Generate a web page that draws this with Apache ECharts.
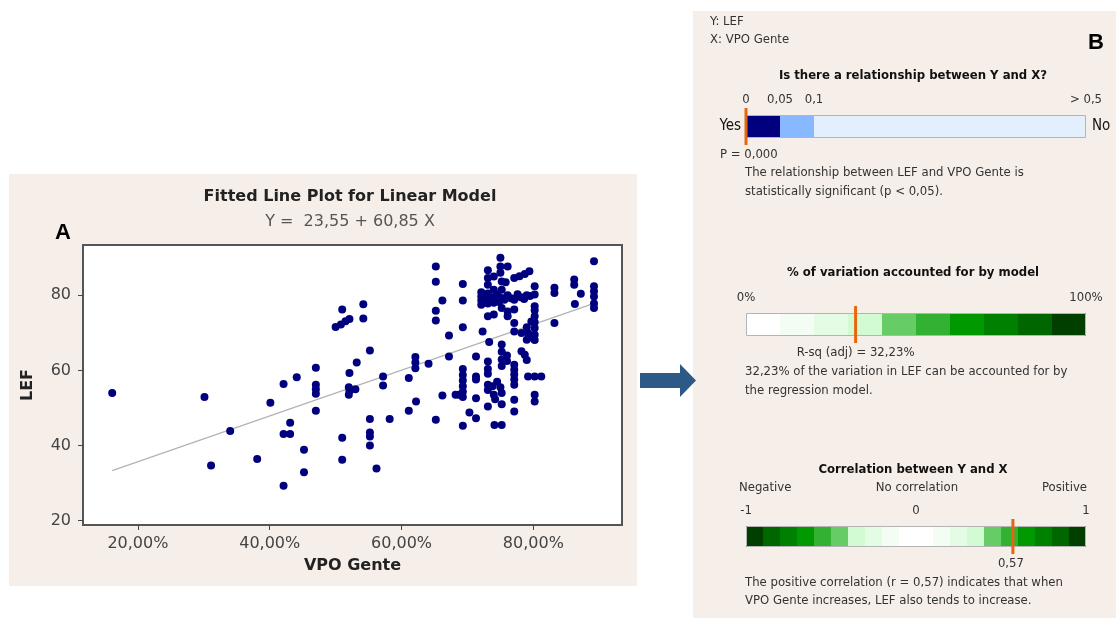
<!DOCTYPE html>
<html>
<head>
<meta charset="utf-8">
<script src="https://cdn.jsdelivr.net/npm/echarts@6/dist/echarts.min.js"></script>
<style>
  html, body { margin: 0; padding: 0; background: #ffffff; }
  #chart { width: 1118px; height: 619px; }
</style>
</head>
<body>
<div id="chart"></div>
<script>
// ---- Panel A: scatter of LEF against VPO Gente ----
const vpoGente = [
  0.161, 0.301, 0.311, 0.340, 0.381, 0.401, 0.421, 0.421, 0.421, 0.431,
  0.431, 0.441, 0.452, 0.452, 0.470, 0.470, 0.470, 0.470, 0.470, 0.500,
  0.508, 0.515, 0.521, 0.510, 0.542, 0.542, 0.552, 0.532, 0.521, 0.520,
  0.521, 0.520, 0.530, 0.510, 0.510, 0.552, 0.552, 0.552, 0.552, 0.562,
  0.572, 0.572, 0.582, 0.611, 0.611, 0.622, 0.621, 0.621, 0.621, 0.641,
  0.652, 0.652, 0.652, 0.652, 0.652, 0.662, 0.662, 0.672, 0.672, 0.682,
  0.687, 0.693, 0.693, 0.693, 0.693, 0.693, 0.693, 0.693, 0.693, 0.693,
  0.693, 0.703, 0.713, 0.713, 0.713, 0.713, 0.713, 0.721, 0.721, 0.721,
  0.721, 0.723, 0.731, 0.731, 0.731, 0.731, 0.731, 0.731, 0.731, 0.733,
  0.731, 0.731, 0.731, 0.731, 0.731, 0.731, 0.740, 0.740, 0.740, 0.740,
  0.740, 0.741, 0.738, 0.740, 0.742, 0.750, 0.750, 0.750, 0.752, 0.752,
  0.752, 0.748, 0.752, 0.752, 0.752, 0.752, 0.752, 0.752, 0.750, 0.752,
  0.752, 0.745, 0.761, 0.761, 0.761, 0.761, 0.758, 0.760, 0.760, 0.771,
  0.771, 0.771, 0.771, 0.771, 0.771, 0.771, 0.771, 0.771, 0.771, 0.771,
  0.771, 0.779, 0.781, 0.782, 0.782, 0.787, 0.787, 0.790, 0.790, 0.792,
  0.790, 0.790, 0.792, 0.794, 0.797, 0.797, 0.802, 0.802, 0.802, 0.802,
  0.802, 0.802, 0.802, 0.802, 0.802, 0.802, 0.802, 0.802, 0.812, 0.832,
  0.832, 0.832, 0.862, 0.862, 0.863, 0.872, 0.892, 0.892, 0.892, 0.892,
  0.892, 0.892, 0.736, 0.745, 0.756, 0.766, 0.776, 0.786, 0.795
];
const lef = [
  54.0, 52.9, 34.7, 43.9, 36.4, 51.4, 56.4, 29.3, 43.1, 43.1,
  46.1, 58.2, 38.9, 32.9, 60.7, 56.2, 55.0, 53.8, 49.3, 71.6,
  72.2, 73.1, 73.7, 76.2, 77.6, 73.8, 65.3, 62.1, 59.3, 55.5,
  54.5, 53.5, 55.0, 42.1, 36.2, 47.1, 43.5, 42.4, 40.0, 33.9,
  58.4, 56.0, 47.1, 58.0, 49.3, 51.7, 63.6, 62.1, 60.6, 61.8,
  87.7, 83.6, 75.9, 73.3, 46.9, 78.6, 53.3, 69.3, 63.7, 53.5,
  53.5, 83.0, 78.6, 71.5, 60.4, 58.8, 57.3, 55.8, 54.3, 52.9,
  45.3, 48.8, 47.3, 63.7, 58.4, 57.6, 52.6, 80.8, 79.7, 78.6,
  77.5, 70.4, 86.7, 84.6, 82.8, 80.5, 79.0, 77.8, 74.4, 67.6,
  62.4, 60.4, 59.1, 56.2, 54.8, 50.4, 85.0, 81.5, 79.5, 78.0,
  74.9, 45.5, 55.8, 53.5, 52.3, 90.0, 87.7, 86.0, 83.7, 81.5,
  79.3, 78.2, 76.6, 45.5, 66.9, 65.0, 62.9, 61.2, 55.5, 54.0,
  51.0, 57.0, 87.7, 80.0, 75.7, 74.4, 83.5, 64.0, 62.5, 84.6,
  78.8, 76.2, 72.6, 70.4, 61.5, 60.2, 58.9, 57.6, 56.2, 52.2,
  49.1, 85.1, 79.5, 70.0, 65.1, 85.7, 64.2, 62.8, 71.5, 70.0,
  68.2, 80.0, 58.4, 86.4, 68.8, 73.0, 82.4, 80.2, 77.1, 76.0,
  74.4, 72.8, 71.3, 69.5, 68.1, 58.4, 53.5, 51.7, 58.4, 82.0,
  80.6, 72.6, 84.2, 82.8, 77.7, 80.4, 89.1, 82.4, 81.1, 79.7,
  77.8, 76.6, 78.5, 80.2, 78.8, 79.2, 80.3, 79.0, 79.8
];
// fitted model Y = b0 + b1 X
const fitIntercept = 23.55;
const fitSlope = 60.85;
const xTicks = [0.2, 0.4, 0.6, 0.8];
const yTicks = [20, 40, 60, 80];

// ---- Panel B: summary bars ----
const pValue = 0.000;
const pBandEdges = [0, 0.05, 0.1, 0.5];
const pTicks = [0, 0.05, 0.1, 0.5];
const pTickLabels = ['0', '0,05', '0,1', '> 0,5'];

const rsqAdj = 32.23;
const rsqEdges = [0, 10, 20, 30, 40, 50, 60, 70, 80, 90, 100];
const rsqTicks = [0, 100];
const rsqTickLabels = ['0%', '100%'];

const corrR = 0.57;
const corrEdges = [-1, -0.9, -0.8, -0.7, -0.6, -0.5, -0.4, -0.3, -0.2, -0.1, 0,
                   0.1, 0.2, 0.3, 0.4, 0.5, 0.6, 0.7, 0.8, 0.9, 1];
const corrTicks = [-1, 0, 1];
const corrTickLabels = ['-1', '0', '1'];

// colour ramps for the bar cells
const pColors = ['#00007f', '#88b8ff', '#e4effd'];
const greenRamp = ['#ffffff', '#f3fdf3', '#e4fce4', '#d3fbd3', '#66cc66',
                   '#33b133', '#009900', '#008000', '#006600', '#003f00'];
const corrColors = greenRamp.slice().reverse().concat(greenRamp);

const chart = echarts.init(document.getElementById('chart'), null, { renderer: 'canvas' });

const FA = "'DejaVu Sans', sans-serif";
const FB = "'DejaVu Sans Condensed', 'Liberation Sans', sans-serif";
const FS = 13;            // panel B text size
const BG = '#f6eee8';
const ORANGE = '#e6670f';

const fmtComma = (v, d) => v.toFixed(d).replace('.', ',');

const scatterData = vpoGente.map((x, i) => [x, lef[i]]);
const xMin = Math.min.apply(null, vpoGente);
const xMax = Math.max.apply(null, vpoGente);
const fitLine = [[xMin, fitIntercept + fitSlope * xMin], [xMax, fitIntercept + fitSlope * xMax]];

function cellsFromEdges(edges, colors) {
  const out = [];
  for (let i = 0; i < edges.length - 1; i++) out.push([edges[i], edges[i + 1], colors[i]]);
  return out;
}

function cellSeries(idx, edges, colors, xMinV, xMaxV) {
  const cells = cellsFromEdges(edges, colors);
  return [{
    type: 'custom', xAxisIndex: idx, yAxisIndex: idx, silent: true, z: 2,
    data: cells.map(c => [c[0], c[1]]),
    encode: { x: [0, 1] },
    renderItem: function (params, api) {
      const c = cells[params.dataIndex];
      const a = api.coord([c[0], 0]);
      const b = api.coord([c[1], 1]);
      return {
        type: 'rect',
        shape: { x: a[0], y: b[1], width: b[0] - a[0], height: a[1] - b[1] },
        style: { fill: c[2] }
      };
    }
  }, {
    // thin grey outline round the whole bar
    type: 'custom', xAxisIndex: idx, yAxisIndex: idx, silent: true, z: 3,
    data: [[xMinV, xMaxV]],
    encode: { x: [0, 1] },
    renderItem: function (params, api) {
      const a = api.coord([xMinV, 0]);
      const b = api.coord([xMaxV, 1]);
      return {
        type: 'rect',
        shape: { x: a[0] + 0.5, y: b[1] + 0.5, width: b[0] - a[0] - 1, height: a[1] - b[1] - 1 },
        style: { fill: 'none', stroke: '#b4b4b4', lineWidth: 1 }
      };
    }
  }];
}

function markerSeries(idx, value, label, labelDx, labelAlign) {
  return {
    type: 'custom', xAxisIndex: idx, yAxisIndex: idx, silent: true, z: 5,
    data: [[value]],
    encode: { x: 0 },
    renderItem: function (params, api) {
      const a = api.coord([api.value(0), 0]);
      const b = api.coord([api.value(0), 1]);
      return {
        type: 'group',
        children: [{
          type: 'rect',
          shape: { x: a[0] - 1.5, y: b[1] - 7, width: 3, height: a[1] - b[1] + 14 },
          style: { fill: ORANGE }
        }, {
          type: 'text',
          style: {
            text: label, x: a[0] + labelDx, y: a[1] + 17,
            textAlign: labelAlign, textVerticalAlign: 'middle',
            align: labelAlign, verticalAlign: 'middle',
            fill: '#333', font: FS + "px " + FB
          }
        }]
      };
    }
  };
}

function barAxes(gridIdx, minV, maxV, ticks, labels) {
  return {
    x: {
      type: 'value', gridIndex: gridIdx, min: minV, max: maxV, position: 'top',
      axisLine: { show: false }, axisTick: { show: false }, splitLine: { show: false },
      axisLabel: {
        customValues: ticks, margin: 9, color: '#333', fontSize: FS, fontFamily: FB,
        formatter: v => labels[ticks.indexOf(v)] !== undefined ? labels[ticks.indexOf(v)] : ''
      }
    },
    y: { type: 'value', gridIndex: gridIdx, min: 0, max: 1, show: false }
  };
}

const ax1 = barAxes(1, 0, 0.5, pTicks, pTickLabels);
const ax2 = barAxes(2, 0, 100, rsqTicks, rsqTickLabels);
const ax3 = barAxes(3, -1, 1, corrTicks, corrTickLabels);

function txt(text, x, y, opts) {
  opts = opts || {};
  return {
    type: 'text', x: x, y: y, z: 50, silent: true,
    style: {
      text: text,
      textAlign: opts.align || 'left', textVerticalAlign: 'middle',
      align: opts.align || 'left', verticalAlign: 'middle',
      fill: opts.color || '#333',
      font: (opts.weight || 'normal') + ' ' + (opts.size || FS) + 'px ' + (opts.family || FB)
    }
  };
}

const option = {
  backgroundColor: '#ffffff',
  animation: false,
  graphic: [
    { type: 'rect', z: -10, silent: true, shape: { x: 9, y: 174, width: 628, height: 412 }, style: { fill: BG } },
    { type: 'rect', z: -10, silent: true, shape: { x: 693, y: 11, width: 423, height: 607 }, style: { fill: BG } },
    // arrow between panels
    { type: 'polygon', z: 10, silent: true,
      shape: { points: [[640, 373], [680, 373], [680, 364], [696, 380.5], [680, 397], [680, 388], [640, 388]] },
      style: { fill: '#2d5987' } },
    // panel A headings
    txt('Fitted Line Plot for Linear Model', 350, 197, { align: 'center', size: 16, weight: 'bold', family: FA, color: '#222' }),
    txt('Y =  23,55 + 60,85 X', 350, 222, { align: 'center', size: 16, family: FA, color: '#555' }),
    txt('A', 63, 233, { align: 'center', size: 22, weight: 'bold', family: "'Liberation Sans', sans-serif", color: '#000' }),
    // panel B texts
    txt('Y: LEF', 710, 22),
    txt('X: VPO Gente', 710, 40),
    txt('B', 1096, 43, { align: 'center', size: 22, weight: 'bold', family: "'Liberation Sans', sans-serif", color: '#000' }),
    txt('Is there a relationship between Y and X?', 913, 76, { align: 'center', weight: 'bold', color: '#111' }),
    txt('Yes', 741, 126, { align: 'right', size: 15, color: '#111' }),
    txt('No', 1092, 126, { size: 15, color: '#111' }),
    txt('The relationship between LEF and VPO Gente is', 745, 173),
    txt('statistically significant (p < 0,05).', 745, 192),
    txt('% of variation accounted for by model', 913, 273, { align: 'center', weight: 'bold', color: '#111' }),
    txt('32,23% of the variation in LEF can be accounted for by', 745, 372),
    txt('the regression model.', 745, 391),
    txt('Correlation between Y and X', 913, 470, { align: 'center', weight: 'bold', color: '#111' }),
    txt('Negative', 739, 488),
    txt('No correlation', 917, 488, { align: 'center' }),
    txt('Positive', 1087, 488, { align: 'right' }),
    txt('The positive correlation (r = 0,57) indicates that when', 745, 583),
    txt('VPO Gente increases, LEF also tends to increase.', 745, 601)
  ],
  grid: [
    { left: 83, top: 245, width: 539, height: 280, show: true, backgroundColor: '#ffffff',
      borderColor: '#555555', borderWidth: 2 },
    { left: 746, top: 115, width: 340, height: 23 },
    { left: 746, top: 313, width: 340, height: 23 },
    { left: 746, top: 526, width: 340, height: 21 }
  ],
  xAxis: [
    {
      type: 'value', gridIndex: 0, min: 0.1167, max: 0.9345,
      name: 'VPO Gente', nameLocation: 'middle', nameGap: 33,
      nameTextStyle: { fontFamily: FA, fontSize: 16, fontWeight: 'bold', color: '#222' },
      axisLine: { show: false },
      axisTick: { show: true, customValues: xTicks, length: 5, lineStyle: { color: '#444' } },
      splitLine: { show: false },
      axisLabel: { customValues: xTicks, margin: 11, fontFamily: FA, fontSize: 16, color: '#444',
                   formatter: v => fmtComma(v * 100, 2) + '%' }
    },
    ax1.x, ax2.x, ax3.x
  ],
  yAxis: [
    {
      type: 'value', gridIndex: 0, min: 18.85, max: 93.4,
      name: 'LEF', nameLocation: 'middle', nameGap: 47, nameRotate: 90,
      nameTextStyle: { fontFamily: FA, fontSize: 16, fontWeight: 'bold', color: '#222' },
      axisLine: { show: false },
      axisTick: { show: true, customValues: yTicks, length: 5, lineStyle: { color: '#444' } },
      splitLine: { show: false },
      axisLabel: { customValues: yTicks, margin: 12, fontFamily: FA, fontSize: 16, color: '#444' }
    },
    ax1.y, ax2.y, ax3.y
  ],
  series: [
    {
      type: 'line', xAxisIndex: 0, yAxisIndex: 0, data: fitLine, symbol: 'none', silent: true,
      lineStyle: { color: '#b3b3b3', width: 1.3 }, z: 2
    },
    {
      type: 'scatter', xAxisIndex: 0, yAxisIndex: 0, data: scatterData, symbol: 'circle',
      symbolSize: 8, itemStyle: { color: '#00007f', opacity: 1 }, z: 3
    }
  ]
    .concat(cellSeries(1, pBandEdges, pColors, 0, 0.5))
    .concat(cellSeries(2, rsqEdges, greenRamp, 0, 100))
    .concat(cellSeries(3, corrEdges, corrColors, -1, 1))
    .concat([
      markerSeries(1, pValue, 'P = ' + fmtComma(pValue, 3), -26, 'left'),
      markerSeries(2, rsqAdj, 'R-sq (adj) = ' + fmtComma(rsqAdj, 2) + '%', 0, 'center'),
      markerSeries(3, corrR, fmtComma(corrR, 2), -2, 'center')
    ])
};

chart.setOption(option);
</script>
</body>
</html>
